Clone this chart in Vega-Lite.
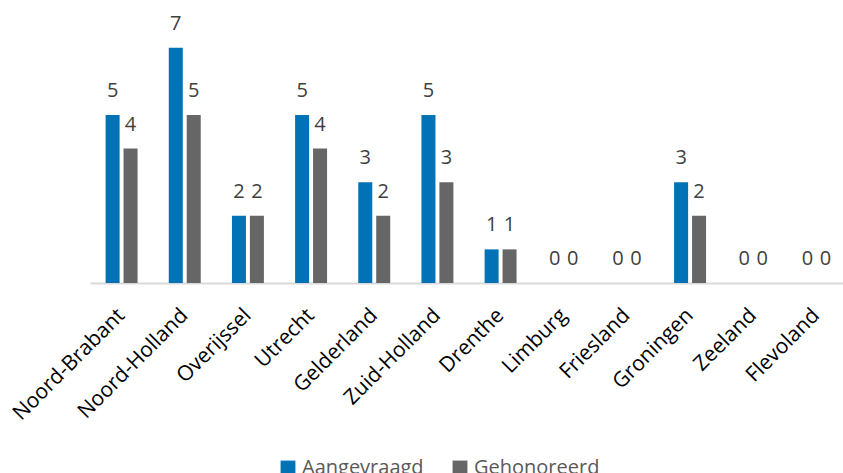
{
  "$schema": "https://vega.github.io/schema/vega-lite/v6.json",
  "width": 758,
  "height": 269,
  "autosize": {"type": "none"},
  "padding": {"left": 90, "top": 14, "right": 0, "bottom": 190},
  "background": "white",
  "config": {"view": {"stroke": null}, "font": "Open Sans"},
  "data": {"values": [
    {"provincie": "Noord-Brabant", "serie": "Aangevraagd", "aantal": 5},
    {"provincie": "Noord-Brabant", "serie": "Gehonoreerd", "aantal": 4},
    {"provincie": "Noord-Holland", "serie": "Aangevraagd", "aantal": 7},
    {"provincie": "Noord-Holland", "serie": "Gehonoreerd", "aantal": 5},
    {"provincie": "Overijssel", "serie": "Aangevraagd", "aantal": 2},
    {"provincie": "Overijssel", "serie": "Gehonoreerd", "aantal": 2},
    {"provincie": "Utrecht", "serie": "Aangevraagd", "aantal": 5},
    {"provincie": "Utrecht", "serie": "Gehonoreerd", "aantal": 4},
    {"provincie": "Gelderland", "serie": "Aangevraagd", "aantal": 3},
    {"provincie": "Gelderland", "serie": "Gehonoreerd", "aantal": 2},
    {"provincie": "Zuid-Holland", "serie": "Aangevraagd", "aantal": 5},
    {"provincie": "Zuid-Holland", "serie": "Gehonoreerd", "aantal": 3},
    {"provincie": "Drenthe", "serie": "Aangevraagd", "aantal": 1},
    {"provincie": "Drenthe", "serie": "Gehonoreerd", "aantal": 1},
    {"provincie": "Limburg", "serie": "Aangevraagd", "aantal": 0},
    {"provincie": "Limburg", "serie": "Gehonoreerd", "aantal": 0},
    {"provincie": "Friesland", "serie": "Aangevraagd", "aantal": 0},
    {"provincie": "Friesland", "serie": "Gehonoreerd", "aantal": 0},
    {"provincie": "Groningen", "serie": "Aangevraagd", "aantal": 3},
    {"provincie": "Groningen", "serie": "Gehonoreerd", "aantal": 2},
    {"provincie": "Zeeland", "serie": "Aangevraagd", "aantal": 0},
    {"provincie": "Zeeland", "serie": "Gehonoreerd", "aantal": 0},
    {"provincie": "Flevoland", "serie": "Aangevraagd", "aantal": 0},
    {"provincie": "Flevoland", "serie": "Gehonoreerd", "aantal": 0}
  ]},
  "encoding": {
    "x": {
      "field": "provincie", "type": "nominal", "sort": null,
      "scale": {"paddingInner": 0.494, "paddingOuter": 0.247},
      "axis": {
        "title": null, "labelAngle": -45, "labelAlign": "right", "labelBaseline": "middle",
        "labelFontSize": 21, "labelColor": "#000000", "labelPadding": 29,
        "ticks": false, "domainColor": "#d9d9d9", "domainWidth": 2
      }
    },
    "xOffset": {"field": "serie", "type": "nominal", "scale": {"paddingInner": 0.22, "paddingOuter": 0}},
    "y": {"field": "aantal", "type": "quantitative", "scale": {"domain": [0, 8]}, "axis": null}
  },
  "layer": [
    {
      "mark": {"type": "bar"},
      "encoding": {
        "color": {
          "field": "serie", "type": "nominal",
          "scale": {"domain": ["Aangevraagd", "Gehonoreerd"], "range": ["#0072b5", "#666666"]},
          "legend": {
            "title": null, "orient": "none", "legendX": 188, "legendY": 444, "direction": "horizontal",
            "symbolType": "square", "symbolSize": 220, "symbolStrokeWidth": 0,
            "labelFontSize": 20, "labelColor": "#595959", "columnPadding": 26, "labelOffset": 4
          }
        }
      }
    },
    {
      "mark": {"type": "text", "baseline": "bottom", "dy": -14, "fontSize": 20, "color": "#404040"},
      "encoding": {"text": {"field": "aantal", "type": "quantitative"}}
    }
  ]
}
